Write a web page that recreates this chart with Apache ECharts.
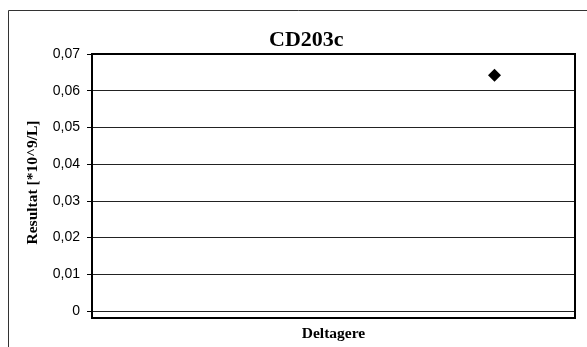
<!DOCTYPE html>
<html lang="da">
<head>
    <meta charset="UTF-8">
    <title>CD203c</title>
    <script src="https://cdn.jsdelivr.net/npm/echarts@6/dist/echarts.min.js"></script>
    <style>
        html, body { margin: 0; padding: 0; background: #fff; }
        #main { width: 587px; height: 347px; }
    </style>
</head>
<body>
<div id="main"></div>
<script>
    // data
    let deltagerX = [5];
    let resultat = [0.0642];
    let yTicks = [0, 0.01, 0.02, 0.03, 0.04, 0.05, 0.06, 0.07];

    let points = deltagerX.map(function (x, i) { return [x, resultat[i]]; });

    let mychart = echarts.init(document.getElementById('main'));
    let option = {
        animation: false,
        title: {
            text: 'CD203c',
            left: 264,
            top: 24,
            textStyle: {
                fontFamily: 'Liberation Serif',
                fontWeight: 'bold',
                fontSize: 22,
                color: '#000'
            }
        },
        graphic: [{
            type: 'rect',
            shape: { x: 8.5, y: 10.5, width: 600, height: 400 },
            style: { fill: 'none', stroke: '#333', lineWidth: 1 },
            silent: true
        }, {
            type: 'rect',
            shape: { x: 92, y: 54, width: 483, height: 264 },
            style: { fill: 'none', stroke: '#000', lineWidth: 2 },
            silent: true,
            z: 10
        }],
        grid: { left: 92, top: 54, width: 483, height: 264 },
        xAxis: {
            type: 'value',
            min: 0,
            max: 6,
            name: 'Deltagere',
            nameLocation: 'middle',
            nameGap: 15,
            nameTextStyle: {
                fontFamily: 'Liberation Serif',
                fontWeight: 'bold',
                fontSize: 15.5,
                color: '#000'
            },
            axisLine: { show: false },
            axisTick: { show: false },
            axisLabel: { show: false },
            splitLine: { show: false }
        },
        yAxis: {
            type: 'value',
            min: 0,
            max: 0.07,
            interval: 0.01,
            name: 'Resultat [*10^9/L]',
            nameLocation: 'middle',
            nameGap: 51,
            nameTextStyle: {
                fontFamily: 'Liberation Serif',
                fontWeight: 'bold',
                fontSize: 15.5,
                color: '#000'
            },
            axisLine: { show: true, lineStyle: { color: '#000', width: 2 } },
            axisTick: { show: true, length: 5, inside: false, lineStyle: { color: '#000', width: 1 } },
            axisLabel: {
                margin: 12,
                fontFamily: 'Liberation Sans',
                fontSize: 14,
                color: '#000',
                formatter: function (v) {
                    let t = yTicks.find(function (k) { return Math.abs(k - v) < 1e-9; });
                    if (t === undefined) return '';
                    return t === 0 ? '0' : t.toFixed(2).replace('.', ',');
                }
            },
            splitLine: { show: true, lineStyle: { color: '#222', width: 1 } }
        },
        series: [{
            type: 'scatter',
            data: points,
            symbol: 'diamond',
            symbolSize: 13,
            itemStyle: { color: '#000', opacity: 1 }
        }]
    };
    mychart.setOption(option);
</script>
</body>
</html>
